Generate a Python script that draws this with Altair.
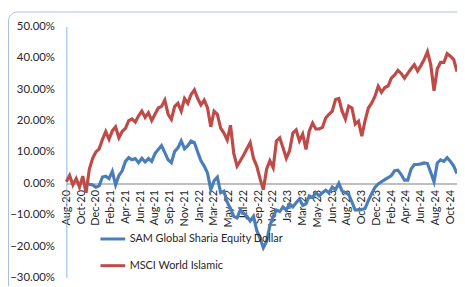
import altair as alt
import pandas as pd

start_date = "2020-08-19"
end_date = "2024-11-01"
n_points = 120

series_names = ["SAM Global Sharia Equity Dollar", "MSCI World Islamic"]
series_colors = ["#4A7EBB", "#BE4B48"]

# cumulative return, percent
msci_world_islamic = [
    0.5, 2.5, -0.5, 1.5, -1.2, 2.3, -3.0, 4.5, 8.0, 10.0,
    11.0, 14.0, 16.5, 14.0, 16.7, 18.0, 14.5, 16.5, 17.5, 20.0,
    20.5, 19.5, 21.5, 23.0, 21.0, 22.5, 20.0, 22.0, 24.0, 24.5,
    26.5, 22.0, 20.4, 24.5, 25.5, 23.0, 27.0, 25.5, 28.3, 29.8,
    27.0, 25.0, 26.5, 24.0, 18.0, 23.0, 22.0, 17.6, 16.0, 13.8,
    18.5, 9.5, 5.5, 7.2, 9.0, 11.0, 13.0, 8.0, 5.5, 1.5,
    -2.0, 4.5, 7.2, 5.0, 13.5, 14.5, 11.3, 8.0, 10.4, 16.0,
    17.0, 13.5, 15.7, 10.8, 16.7, 19.2, 17.3, 17.3, 17.8, 20.8,
    22.0, 23.0, 26.7, 27.0, 23.0, 20.5, 24.6, 24.0, 18.9, 19.8,
    15.0, 20.0, 24.0, 25.5, 27.7, 30.9, 29.0, 30.5, 31.0, 33.5,
    34.5, 36.0, 35.0, 33.5, 35.0, 36.5, 37.8, 35.8, 37.5, 39.4,
    41.9, 37.8, 29.5, 36.5, 38.5, 38.5, 41.3, 40.5, 39.4, 35.6,
]

sam_global_sharia = [None] * 6 + [
    0.0, -0.3, -0.5, -1.2,
    -0.8, 2.0, 2.3, 1.5, 3.8, -0.5, 2.5, 4.0, 7.0, 8.2,
    7.5, 7.9, 6.6, 8.0, 6.8, 7.9, 7.0, 9.5, 10.8, 12.0,
    9.8, 7.5, 6.6, 10.2, 11.3, 13.5, 11.0, 12.0, 13.5, 13.0,
    10.0, 7.2, 5.5, 3.3, -2.0, 0.8, 2.0, -3.0, -2.5, -6.0,
    -8.0, -10.5, -11.0, -8.5, -9.5, -10.5, -12.0, -10.5, -15.0, -17.5,
    -20.5, -18.5, -13.5, -10.5, -8.5, -9.0, -7.5, -8.5, -6.5, -7.5,
    -6.2, -5.0, -7.0, -6.5, -4.0, -4.5, -3.0, -4.0, -3.0, -2.2,
    -3.0, -1.2, -2.0, 0.0, -2.5, -3.0, -3.5, -6.0, -8.5, -8.5,
    -8.3, -8.0, -5.5, -3.3, -1.3, -0.2, 0.5, 1.2, 1.8, 2.5,
    4.0, 4.2, 2.8, 1.0, 1.0, 4.5, 6.0, 6.0, 6.2, 6.5,
    6.3, 3.5, 0.5, 6.5, 7.5, 7.0, 8.2, 7.0, 5.5, 3.1,
]

tick_dates = [
    (2020, 8, 19), (2020, 10, 16), (2020, 12, 13), (2021, 2, 9), (2021, 4, 8),
    (2021, 6, 5), (2021, 8, 2), (2021, 9, 29), (2021, 11, 26), (2022, 1, 23),
    (2022, 3, 22), (2022, 5, 19), (2022, 7, 16), (2022, 9, 12), (2022, 11, 9),
    (2023, 1, 6), (2023, 3, 5), (2023, 5, 2), (2023, 6, 29), (2023, 8, 26),
    (2023, 10, 23), (2023, 12, 20), (2024, 2, 16), (2024, 4, 14), (2024, 6, 11),
    (2024, 8, 8), (2024, 10, 5),
]

y_ticks = [-0.3, -0.2, -0.1, 0.0, 0.1, 0.2, 0.3, 0.4, 0.5]

dates = pd.date_range(start_date, end_date, periods=n_points)
rows = []
for name, vals in [(series_names[0], sam_global_sharia), (series_names[1], msci_world_islamic)]:
    for d, v in zip(dates, vals):
        if v is not None:
            rows.append({"date": d, "series": name, "value": v / 100.0})
df = pd.DataFrame(rows)

text_color = "#262626"
font = "Lato"

x_axis = alt.Axis(
    values=[alt.DateTime(year=y, month=m, date=d) for (y, m, d) in tick_dates],
    format="%b-%y",
    labelAngle=270,
    labelAlign="right",
    labelBaseline="middle",
    labelFontSize=11,
    labelColor=text_color,
    labelPadding=6,
    labelOverlap=False,
    labelFlush=False,
    ticks=False,
    grid=False,
    domainColor="#BFBFBF",
    domainWidth=2,
    offset=-95,
    title=None,
)

y_axis = alt.Axis(
    values=y_ticks,
    format=".2%",
    labelFontSize=11.5,
    labelColor=text_color,
    labelPadding=12,
    ticks=False,
    grid=False,
    domainColor="#8EB4E3",
    domainWidth=1,
    title=None,
)

lines = alt.Chart(df).mark_line(strokeWidth=3.2).encode(
    x=alt.X(
        "date:T",
        scale=alt.Scale(domain=[alt.DateTime(year=2020, month=8, date=19),
                                alt.DateTime(year=2024, month=11, date=1)]),
        axis=x_axis,
    ),
    y=alt.Y("value:Q", scale=alt.Scale(domain=[-0.3, 0.5]), axis=y_axis),
    color=alt.Color(
        "series:N",
        scale=alt.Scale(domain=series_names, range=series_colors),
        legend=alt.Legend(
            orient="none",
            legendX=33,
            legendY=201,
            title=None,
            symbolType="stroke",
            symbolStrokeWidth=3,
            symbolSize=625,
            labelFontSize=11,
            labelColor=text_color,
            labelOffset=3,
            rowPadding=7,
            padding=0,
        ),
    ),
)

border = alt.Chart(alt.Data(values=[{"a": 1}])).mark_rect(
    filled=False, stroke="#A7BFDE", strokeWidth=1, cornerRadius=9
).encode(
    x=alt.value(-58.5), x2=alt.value(420), y=alt.value(-14.5), y2=alt.value(290)
)

chart = alt.layer(border, lines).properties(
    width=395,
    height=254,
    padding={"left": 59, "top": 17, "right": 0, "bottom": 7},
    autosize=alt.AutoSizeParams(type="none"),
).configure(font=font).configure_view(stroke=None)

chart.save("out.html", embed_options={"renderer": "svg", "actions": False})
